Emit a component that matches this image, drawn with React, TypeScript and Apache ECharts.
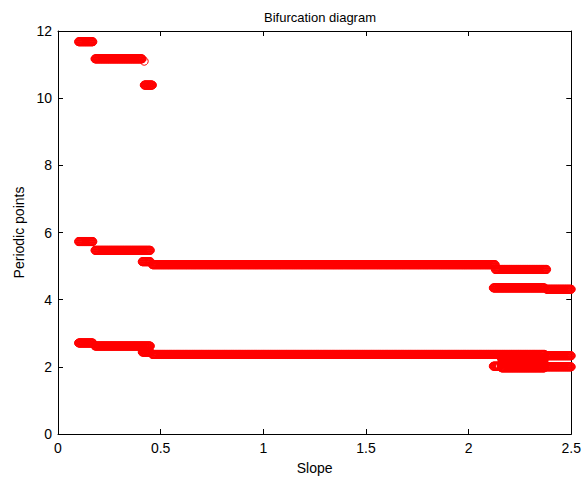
import React, { useEffect, useRef } from "react";
import * as echarts from "echarts";

// Axis ticks
const xTickValues = [0, 0.5, 1, 1.5, 2, 2.5];
const yTickValues = [0, 2, 4, 6, 8, 10, 12];

// Slope values are sampled every 0.002
const slopeStep = 0.002;

// Periodic-point plateaus: [slope from, slope to, periodic point]
const upperBranch: number[][] = [
  [0.1, 0.17, 11.68],
  [0.18, 0.41, 11.17],
  [0.42, 0.42, 11.1],
  [0.42, 0.46, 10.39],
];
const middleBranch: number[][] = [
  [0.1, 0.17, 5.73],
  [0.18, 0.45, 5.47],
  [0.41, 0.45, 5.13],
  [0.46, 2.13, 5.04],
  [2.13, 2.38, 4.9],
  [2.12, 2.37, 4.35],
  [2.38, 2.5, 4.31],
];
const lowerBranch: number[][] = [
  [0.1, 0.17, 2.71],
  [0.18, 0.45, 2.62],
  [0.41, 0.45, 2.44],
  [0.46, 2.37, 2.37],
  [2.38, 2.5, 2.33],
  [2.12, 2.15, 2.02],
  [2.16, 2.37, 2.24],
  [2.16, 2.37, 2.1],
  [2.16, 2.37, 1.97],
  [2.38, 2.5, 2.0],
];

function expand(branches: number[][][]): number[][] {
  const pts: number[][] = [];
  for (const branch of branches) {
    for (const [x0, x1, y] of branch) {
      const n = Math.round((x1 - x0) / slopeStep);
      for (let i = 0; i <= n; i++) {
        pts.push([Math.round((x0 + i * slopeStep) * 1000) / 1000, y]);
      }
    }
  }
  return pts;
}

export default function App() {
  const ref = useRef<HTMLDivElement>(null);
  useEffect(() => {
    if (!ref.current) return;
    const chart = echarts.init(ref.current, undefined, { renderer: "svg" });
    const font = "'Liberation Sans', Arial, Helvetica, sans-serif";
    const axisLine = { show: true, onZero: false, lineStyle: { color: "#000", width: 1 } };
    const tick = { show: true, inside: true, length: 5, lineStyle: { color: "#000" } };
    chart.setOption({
      animation: false,
      backgroundColor: "#fff",
      title: {
        text: "Bifurcation diagram",
        left: 315,
        textAlign: "center",
        top: 6,
        textStyle: { fontFamily: font, fontSize: 13, fontWeight: "normal", color: "#000" },
      },
      grid: { left: 58, top: 31, right: 12, bottom: 47, containLabel: false },
      xAxis: [
        {
          type: "value",
          min: 0,
          max: 2.5,
          interval: 0.5,
          name: "Slope",
          nameLocation: "middle",
          nameGap: 27,
          nameTextStyle: { fontFamily: font, fontSize: 14, color: "#000" },
          axisLine,
          axisTick: tick,
          splitLine: { show: false },
          axisLabel: {
            fontFamily: font,
            fontSize: 14,
            color: "#000",
            margin: 7,
            formatter: (v: number) => (xTickValues.includes(v) ? String(v) : ""),
          },
        },
        {
          type: "value",
          position: "top",
          min: 0,
          max: 2.5,
          interval: 0.5,
          axisLine,
          axisTick: tick,
          axisLabel: { show: false },
          splitLine: { show: false },
        },
      ],
      yAxis: [
        {
          type: "value",
          min: 0,
          max: 12,
          interval: 2,
          name: "Periodic points",
          nameLocation: "middle",
          nameGap: 30,
          nameTextStyle: { fontFamily: font, fontSize: 14, color: "#000" },
          axisLine,
          axisTick: tick,
          splitLine: { show: false },
          axisLabel: {
            fontFamily: font,
            fontSize: 14,
            color: "#000",
            margin: 6,
            formatter: (v: number) => (yTickValues.includes(v) ? String(v) : ""),
          },
        },
        {
          type: "value",
          position: "right",
          min: 0,
          max: 12,
          interval: 2,
          axisLine,
          axisTick: tick,
          axisLabel: { show: false },
          splitLine: { show: false },
        },
      ],
      series: [
        {
          type: "scatter",
          data: expand([upperBranch, middleBranch, lowerBranch]),
          symbol: "circle",
          symbolSize: 8,
          silent: true,
          large: false,
          itemStyle: { color: "rgba(0,0,0,0)", borderColor: "#ff0000", borderWidth: 1, opacity: 1 },
        },
      ],
    });
    return () => chart.dispose();
  }, []);
  return (
    <div
      ref={ref}
      style={{ position: "fixed", left: 0, top: 0, width: 584, height: 481, background: "#fff" }}
    />
  );
}
